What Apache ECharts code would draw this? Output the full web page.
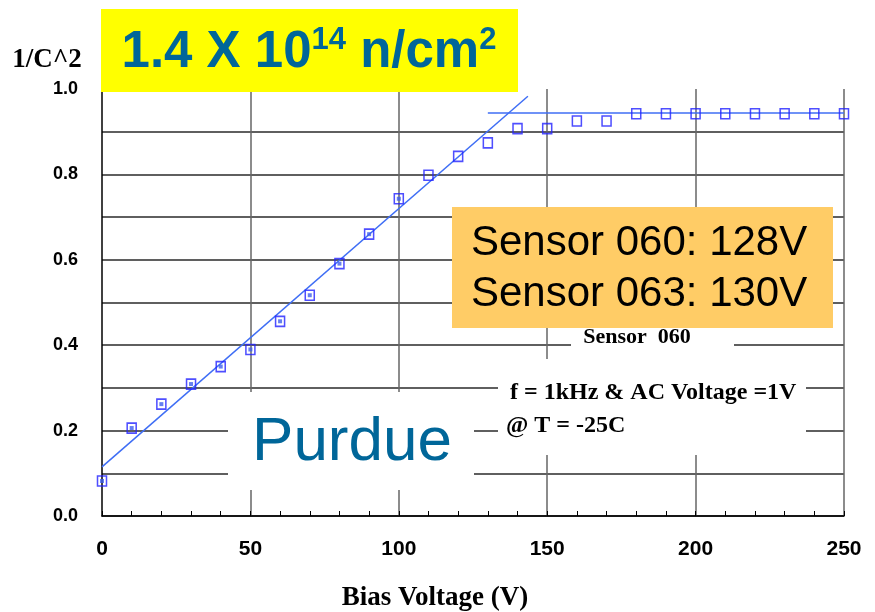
<!DOCTYPE html>
<html>
<head>
<meta charset="utf-8">
<title>1/C^2 vs Bias Voltage</title>
<script src="https://cdn.jsdelivr.net/npm/echarts@6/dist/echarts.min.js"></script>
<style>
  html, body { margin: 0; padding: 0; background: #fff; }
  #chart { width: 875px; height: 612px; }
</style>
</head>
<body>
<div id="chart"></div>
<script>
// measured points, sensor 060
var voltages = [0, 10, 20, 30, 40, 50, 60, 70, 80, 90, 100, 110, 120, 130, 140, 150, 160, 170, 180, 190, 200, 210, 220, 230, 240, 250];
var invC2 = [0.082, 0.206, 0.262, 0.309, 0.350, 0.390, 0.456, 0.517, 0.591, 0.660, 0.743, 0.798, 0.842, 0.874, 0.907, 0.907, 0.925, 0.925, 0.942, 0.942, 0.942, 0.942, 0.942, 0.942, 0.942, 0.942];
// points drawn with a filled centre
var filledUpTo = 100;
// straight-line fits
var riseFit = [[0, 0.115], [143.5, 0.983]];
var flatFit = [[130, 0.944], [250, 0.944]];
var xTicks = [0, 50, 100, 150, 200, 250];

var markColor = '#2222ff';
var fitColor = '#3f6ef5';
var numFont = "'Liberation Sans Narrow', 'Liberation Sans', Arial";
var serif = "'Liberation Serif', 'Times New Roman', serif";

var points = voltages.map(function (v, i) { return [v, invC2[i]]; });
var inner = points.filter(function (p) { return p[0] <= filledUpTo; });

var myChart = echarts.init(document.getElementById('chart'));

var option = {
    backgroundColor: '#fff',
    animation: false,
    grid: { left: 102, right: 31, top: 89, bottom: 96 },
    xAxis: {
        type: 'value',
        min: 0, max: 250, interval: 50,
        axisLine: { lineStyle: { color: '#000', width: 1.5 } },
        axisTick: { inside: true, length: 5, lineStyle: { color: '#000' } },
        minorTick: { show: true, splitNumber: 5, length: 5, lineStyle: { color: '#000' } },
        splitLine: { show: true, showMinLine: false, lineStyle: { color: '#666', width: 1.5 } },
        axisLabel: {
            margin: 23,
            color: '#000', fontSize: 21, fontWeight: 'bold', fontFamily: numFont,
            formatter: function (v) { return xTicks.indexOf(v) >= 0 ? String(v) : ''; }
        }
    },
    yAxis: {
        type: 'value',
        min: 0, max: 1, interval: 0.1,
        axisLine: { show: true, lineStyle: { color: '#000', width: 1.5 } },
        axisTick: { show: false },
        splitLine: { show: true, showMaxLine: false, lineStyle: { color: '#2a2a2a', width: 1.5 } },
        axisLabel: {
            margin: 24,
            color: '#000', fontSize: 18, fontWeight: 'bold', fontFamily: numFont,
            formatter: function (v) {
                return Math.round(v * 10) % 2 === 0 ? v.toFixed(1) : '';
            }
        }
    },
    series: [
        {
            type: 'line', data: riseFit, symbol: 'none', z: 3,
            lineStyle: { color: fitColor, width: 1.5 }
        },
        {
            type: 'line', data: flatFit, symbol: 'none', z: 3,
            lineStyle: { color: fitColor, width: 1.5 }
        },
        {
            type: 'scatter', data: points, symbol: 'rect', symbolSize: [9, 10], z: 4,
            itemStyle: { color: 'rgba(255,255,255,0)', borderColor: markColor, borderWidth: 1.6 }
        },
        {
            type: 'scatter', data: inner, symbol: 'rect', symbolSize: 4, z: 5,
            itemStyle: { color: '#3f5fee' }
        }
    ],
    graphic: [
        // title box
        { type: 'rect', z: 100, shape: { x: 101, y: 9, width: 417, height: 83 }, style: { fill: '#ffff00' } },
        {
            type: 'text', z: 101, x: 309, y: 53,
            style: {
                text: '{a|1.4 X 10}{s|14}{a| n/cm}{s|2}',
                align: 'center', verticalAlign: 'middle',
                fill: '#006699',
                rich: {
                    a: { fontSize: 51, fontWeight: 'bold', fontFamily: 'Arial, Liberation Sans', fill: '#006699', lineHeight: 56 },
                    s: { fontSize: 31, fontWeight: 'bold', fontFamily: 'Arial, Liberation Sans', fill: '#006699', verticalAlign: 'top', lineHeight: 56 }
                }
            }
        },
        // y axis name
        {
            type: 'text', z: 101, x: 47, y: 60,
            style: { text: '1/C^2', align: 'center', verticalAlign: 'middle', fill: '#000', font: 'bold 27px ' + serif }
        },
        // x axis name
        {
            type: 'text', z: 101, x: 435, y: 598,
            style: { text: 'Bias Voltage (V)', align: 'center', verticalAlign: 'middle', fill: '#000', font: 'bold 27px ' + serif }
        },
        // Purdue label
        { type: 'rect', z: 100, shape: { x: 228, y: 392, width: 246, height: 98 }, style: { fill: '#fff' } },
        {
            type: 'text', z: 101, x: 352, y: 443,
            style: { text: 'Purdue', align: 'center', verticalAlign: 'middle', fill: '#006699', font: '62px Arial, Liberation Sans' }
        },
        // sensor id label
        { type: 'rect', z: 100, shape: { x: 571, y: 326, width: 163, height: 33 }, style: { fill: '#fff' } },
        {
            type: 'text', z: 101, x: 637, y: 337,
            style: { text: 'Sensor  060', align: 'center', verticalAlign: 'middle', fill: '#000', font: 'bold 22px ' + serif }
        },
        // measurement conditions
        { type: 'rect', z: 100, shape: { x: 498, y: 359, width: 308, height: 96 }, style: { fill: '#fff' } },
        {
            type: 'text', z: 101, x: 510, y: 393,
            style: { text: 'f = 1kHz & AC Voltage =1V', align: 'left', verticalAlign: 'middle', fill: '#000', font: 'bold 24px ' + serif }
        },
        {
            type: 'text', z: 101, x: 506, y: 426,
            style: { text: '@ T = -25C', align: 'left', verticalAlign: 'middle', fill: '#000', font: 'bold 24px ' + serif }
        },
        // depletion voltages
        { type: 'rect', z: 100, shape: { x: 452, y: 207, width: 381, height: 121 }, style: { fill: '#ffcc66' } },
        {
            type: 'text', z: 101, x: 471, y: 243,
            style: { text: 'Sensor 060: 128V', align: 'left', verticalAlign: 'middle', fill: '#000', font: '42px Arial, Liberation Sans' }
        },
        {
            type: 'text', z: 101, x: 471, y: 294,
            style: { text: 'Sensor 063: 130V', align: 'left', verticalAlign: 'middle', fill: '#000', font: '42px Arial, Liberation Sans' }
        }
    ]
};

myChart.setOption(option);
window.onresize = function () {
    myChart.resize();
};
</script>
</body>
</html>
